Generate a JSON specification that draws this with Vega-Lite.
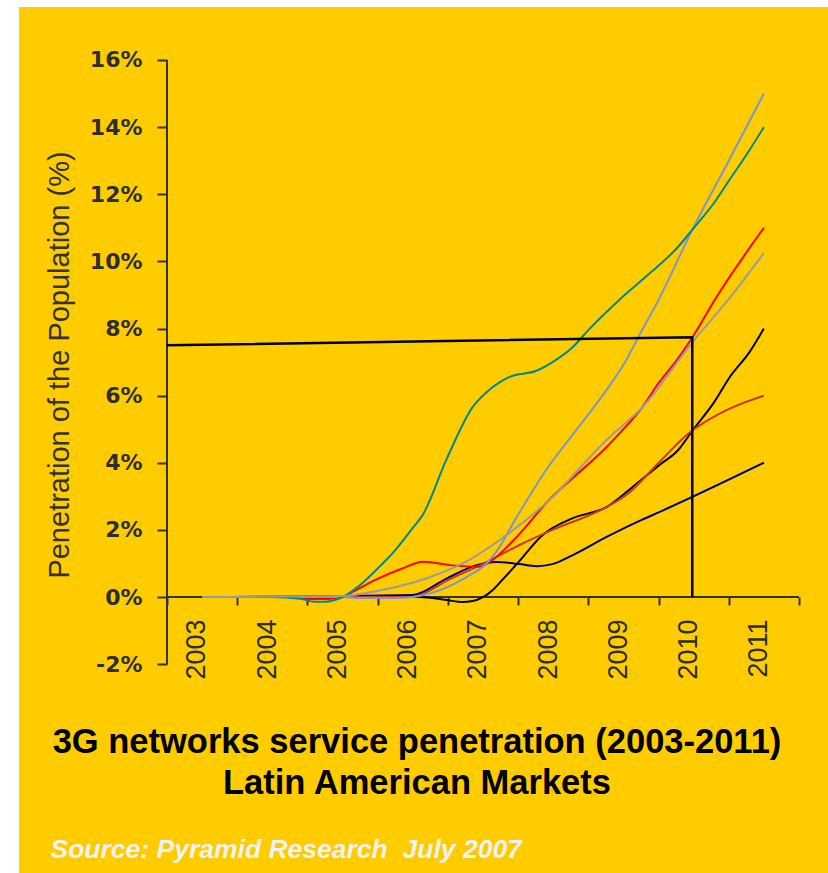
{
  "$schema": "https://vega.github.io/schema/vega-lite/v6.json",
  "width": 809,
  "height": 866,
  "autosize": {"type": "none"},
  "padding": {"left": 19, "top": 7, "right": 0, "bottom": 0},
  "background": "#FFFFFF",
  "config": {"view": {"fill": "#FFCC00", "stroke": null}, "font": "Liberation Sans"},
  "title": {
    "text": ["3G networks service penetration (2003-2011)", "Latin American Markets"],
    "orient": "bottom",
    "anchor": "middle",
    "offset": -120,
    "baseline": "alphabetic",
    "font": "Liberation Sans",
    "fontSize": 34.5,
    "fontWeight": "bold",
    "color": "#000000",
    "lineHeight": 41,
    "dx": -6.5
  },
  "datasets": {
    "series": [
      {"market": "Market 1", "year": 2003, "pct": 0},
      {"market": "Market 1", "year": 2006, "pct": 0.06},
      {"market": "Market 1", "year": 2006.48, "pct": 0.55},
      {"market": "Market 1", "year": 2006.91, "pct": 0.95},
      {"market": "Market 1", "year": 2007.19, "pct": 1.04},
      {"market": "Market 1", "year": 2007.52, "pct": 0.98},
      {"market": "Market 1", "year": 2007.76, "pct": 0.92},
      {"market": "Market 1", "year": 2007.99, "pct": 0.98},
      {"market": "Market 1", "year": 2008.28, "pct": 1.25},
      {"market": "Market 1", "year": 2008.76, "pct": 1.79},
      {"market": "Market 1", "year": 2009.26, "pct": 2.3},
      {"market": "Market 1", "year": 2009.51, "pct": 2.53},
      {"market": "Market 1", "year": 2011, "pct": 4.0},

      {"market": "Market 2", "year": 2003, "pct": 0},
      {"market": "Market 2", "year": 2006.1, "pct": 0},
      {"market": "Market 2", "year": 2006.48, "pct": -0.09},
      {"market": "Market 2", "year": 2006.71, "pct": -0.15},
      {"market": "Market 2", "year": 2006.85, "pct": -0.12},
      {"market": "Market 2", "year": 2007.0, "pct": 0.0},
      {"market": "Market 2", "year": 2007.14, "pct": 0.21},
      {"market": "Market 2", "year": 2007.24, "pct": 0.43},
      {"market": "Market 2", "year": 2007.48, "pct": 0.98},
      {"market": "Market 2", "year": 2007.85, "pct": 1.85},
      {"market": "Market 2", "year": 2008.28, "pct": 2.35},
      {"market": "Market 2", "year": 2008.76, "pct": 2.68},
      {"market": "Market 2", "year": 2009.13, "pct": 3.28},
      {"market": "Market 2", "year": 2009.51, "pct": 3.93},
      {"market": "Market 2", "year": 2009.78, "pct": 4.38},
      {"market": "Market 2", "year": 2009.99, "pct": 4.98},
      {"market": "Market 2", "year": 2010.28, "pct": 5.77},
      {"market": "Market 2", "year": 2010.52, "pct": 6.57},
      {"market": "Market 2", "year": 2010.8, "pct": 7.31},
      {"market": "Market 2", "year": 2011, "pct": 8.0},

      {"market": "Market 3", "year": 2003, "pct": 0},
      {"market": "Market 3", "year": 2004.3, "pct": 0},
      {"market": "Market 3", "year": 2004.55, "pct": -0.06},
      {"market": "Market 3", "year": 2004.8, "pct": -0.05},
      {"market": "Market 3", "year": 2005, "pct": 0},
      {"market": "Market 3", "year": 2006, "pct": 0},
      {"market": "Market 3", "year": 2006.1, "pct": 0.06},
      {"market": "Market 3", "year": 2006.5, "pct": 0.5},
      {"market": "Market 3", "year": 2007.05, "pct": 1.04},
      {"market": "Market 3", "year": 2007.52, "pct": 1.55},
      {"market": "Market 3", "year": 2007.99, "pct": 2.0},
      {"market": "Market 3", "year": 2008.76, "pct": 2.68},
      {"market": "Market 3", "year": 2009.04, "pct": 3.04},
      {"market": "Market 3", "year": 2009.54, "pct": 4.08},
      {"market": "Market 3", "year": 2009.9, "pct": 4.83},
      {"market": "Market 3", "year": 2010.49, "pct": 5.59},
      {"market": "Market 3", "year": 2011, "pct": 6.0},

      {"market": "Market 4", "year": 2003, "pct": 0},
      {"market": "Market 4", "year": 2004.2, "pct": 0},
      {"market": "Market 4", "year": 2004.5, "pct": -0.05},
      {"market": "Market 4", "year": 2004.8, "pct": -0.05},
      {"market": "Market 4", "year": 2005, "pct": 0},
      {"market": "Market 4", "year": 2005.15, "pct": 0.16},
      {"market": "Market 4", "year": 2005.49, "pct": 0.53},
      {"market": "Market 4", "year": 2005.85, "pct": 0.85},
      {"market": "Market 4", "year": 2006.15, "pct": 1.05},
      {"market": "Market 4", "year": 2006.53, "pct": 0.95},
      {"market": "Market 4", "year": 2006.96, "pct": 0.9},
      {"market": "Market 4", "year": 2007.1, "pct": 1.05},
      {"market": "Market 4", "year": 2007.48, "pct": 1.79},
      {"market": "Market 4", "year": 2007.9, "pct": 2.8},
      {"market": "Market 4", "year": 2008.76, "pct": 4.47},
      {"market": "Market 4", "year": 2008.99, "pct": 4.98},
      {"market": "Market 4", "year": 2009.26, "pct": 5.63},
      {"market": "Market 4", "year": 2009.51, "pct": 6.4},
      {"market": "Market 4", "year": 2009.76, "pct": 7.06},
      {"market": "Market 4", "year": 2009.99, "pct": 7.76},
      {"market": "Market 4", "year": 2010.3, "pct": 8.85},
      {"market": "Market 4", "year": 2011, "pct": 11.0},

      {"market": "Market 5", "year": 2003, "pct": 0},
      {"market": "Market 5", "year": 2005, "pct": 0},
      {"market": "Market 5", "year": 2005.25, "pct": -0.03},
      {"market": "Market 5", "year": 2005.75, "pct": -0.03},
      {"market": "Market 5", "year": 2006, "pct": 0},
      {"market": "Market 5", "year": 2006.5, "pct": 0.3},
      {"market": "Market 5", "year": 2006.77, "pct": 0.6},
      {"market": "Market 5", "year": 2007.05, "pct": 1.0},
      {"market": "Market 5", "year": 2007.19, "pct": 1.35},
      {"market": "Market 5", "year": 2007.48, "pct": 2.38},
      {"market": "Market 5", "year": 2007.9, "pct": 3.79},
      {"market": "Market 5", "year": 2008.33, "pct": 4.98},
      {"market": "Market 5", "year": 2008.76, "pct": 6.17},
      {"market": "Market 5", "year": 2009.04, "pct": 7.06},
      {"market": "Market 5", "year": 2009.19, "pct": 7.66},
      {"market": "Market 5", "year": 2009.5, "pct": 8.85},
      {"market": "Market 5", "year": 2009.98, "pct": 10.94},
      {"market": "Market 5", "year": 2010.5, "pct": 13.0},
      {"market": "Market 5", "year": 2011, "pct": 15.0},

      {"market": "Market 6", "year": 2003, "pct": 0},
      {"market": "Market 6", "year": 2004, "pct": 0},
      {"market": "Market 6", "year": 2004.4, "pct": -0.05},
      {"market": "Market 6", "year": 2004.6, "pct": -0.14},
      {"market": "Market 6", "year": 2004.75, "pct": -0.14},
      {"market": "Market 6", "year": 2005, "pct": 0},
      {"market": "Market 6", "year": 2005.25, "pct": 0.36},
      {"market": "Market 6", "year": 2005.5, "pct": 0.85},
      {"market": "Market 6", "year": 2005.71, "pct": 1.3},
      {"market": "Market 6", "year": 2006, "pct": 2.06},
      {"market": "Market 6", "year": 2006.14, "pct": 2.44},
      {"market": "Market 6", "year": 2006.48, "pct": 4.1},
      {"market": "Market 6", "year": 2006.85, "pct": 5.65},
      {"market": "Market 6", "year": 2007.05, "pct": 6.1},
      {"market": "Market 6", "year": 2007.24, "pct": 6.4},
      {"market": "Market 6", "year": 2007.38, "pct": 6.56},
      {"market": "Market 6", "year": 2007.76, "pct": 6.74},
      {"market": "Market 6", "year": 2007.99, "pct": 7.0},
      {"market": "Market 6", "year": 2008.28, "pct": 7.45},
      {"market": "Market 6", "year": 2008.5, "pct": 7.95},
      {"market": "Market 6", "year": 2008.94, "pct": 8.85},
      {"market": "Market 6", "year": 2009.35, "pct": 9.6},
      {"market": "Market 6", "year": 2009.76, "pct": 10.39},
      {"market": "Market 6", "year": 2009.98, "pct": 10.94},
      {"market": "Market 6", "year": 2010.32, "pct": 11.83},
      {"market": "Market 6", "year": 2010.5, "pct": 12.4},
      {"market": "Market 6", "year": 2010.75, "pct": 13.17},
      {"market": "Market 6", "year": 2011, "pct": 14.0},

      {"market": "Market 7", "year": 2003, "pct": 0},
      {"market": "Market 7", "year": 2005, "pct": 0.03},
      {"market": "Market 7", "year": 2005.49, "pct": 0.18},
      {"market": "Market 7", "year": 2006.2, "pct": 0.56},
      {"market": "Market 7", "year": 2006.71, "pct": 1.0},
      {"market": "Market 7", "year": 2007.24, "pct": 1.7},
      {"market": "Market 7", "year": 2007.9, "pct": 2.8},
      {"market": "Market 7", "year": 2008.76, "pct": 4.68},
      {"market": "Market 7", "year": 2009.26, "pct": 5.63},
      {"market": "Market 7", "year": 2009.99, "pct": 7.61},
      {"market": "Market 7", "year": 2010.49, "pct": 8.85},
      {"market": "Market 7", "year": 2011, "pct": 10.25}
    ],
    "frame": [
      {"step": 1, "year": 2002.5, "pct": 7.5},
      {"step": 2, "year": 2009.98, "pct": 7.74},
      {"step": 3, "year": 2009.98, "pct": 0}
    ]
  },
  "layer": [
    {
      "data": {"values": [{}]},
      "mark": {"type": "rule", "color": "#333333", "strokeWidth": 2},
      "encoding": {
        "x": {"datum": 2002.5, "type": "quantitative", "scale": {"domain": [2000.3924, 2011.913], "nice": false, "zero": false}},
        "x2": {"datum": 2011.5},
        "y": {"datum": 0, "type": "quantitative", "scale": {"domain": [-8.223, 17.579], "nice": false, "zero": false}}
      }
    },
    {
      "data": {"values": [{}]},
      "mark": {"type": "rule", "color": "#333333", "strokeWidth": 2},
      "encoding": {
        "x": {"datum": 2002.5, "type": "quantitative", "scale": {"domain": [2000.3924, 2011.913], "nice": false, "zero": false}},
        "y": {"datum": -2, "type": "quantitative", "scale": {"domain": [-8.223, 17.579], "nice": false, "zero": false}},
        "y2": {"datum": 16}
      }
    },
    {
      "data": {"name": "series"},
      "mark": {"type": "line", "strokeWidth": 2, "interpolate": "monotone"},
      "encoding": {
        "x": {
          "field": "year",
          "type": "quantitative",
          "scale": {"domain": [2000.3924, 2011.913], "nice": false, "zero": false},
          "axis": {
            "values": [2002.5, 2003.5, 2004.5, 2005.5, 2006.5, 2007.5, 2008.5, 2009.5, 2010.5, 2011.5],
            "labelExpr": "datum.value < 2011 ? format(datum.value + 0.5, 'd') : ''",
            "labelAngle": -90,
            "labelOffset": 30,
            "labelPadding": 14,
            "labelFont": "Liberation Sans",
            "labelFontSize": 27,
            "labelColor": "#2E2E2E",
            "labelOverlap": false,
            "labelFlush": false,
            "labelBound": false,
            "tickSize": 8,
            "tickWidth": 2,
            "tickColor": "#333333",
            "domain": false,
            "grid": false,
            "offset": -276,
            "title": "Source: Pyramid Research\u00a0 July 2007",
            "titleFont": "Liberation Sans",
            "titleFontSize": 26.5,
            "titleFontStyle": "italic",
            "titleFontWeight": "bold",
            "titleColor": "#F2F2F2",
            "titleX": 31,
            "titleY": 260,
            "titleAlign": "left",
            "titleAnchor": "start",
            "titleBaseline": "alphabetic"
          }
        },
        "y": {
          "field": "pct",
          "type": "quantitative",
          "scale": {"domain": [-8.223, 17.579], "nice": false, "zero": false},
          "axis": {
            "values": [-2, 0, 2, 4, 6, 8, 10, 12, 14, 16],
            "labelExpr": "datum.value + '%'",
            "labelFont": "DejaVu Sans",
            "labelFontSize": 22,
            "labelFontWeight": "bold",
            "labelColor": "#2E2E2E",
            "labelPadding": 15,
            "labelOverlap": false,
            "labelFlush": false,
            "labelBound": false,
            "tickSize": 10,
            "tickWidth": 2,
            "tickColor": "#333333",
            "domain": false,
            "grid": false,
            "offset": -148,
            "title": "Penetration of the Population (%)",
            "titleFont": "Liberation Sans",
            "titleFontSize": 29,
            "titleFontWeight": "normal",
            "titleColor": "#333333",
            "titleAngle": -90,
            "titleX": -99,
            "titleY": 357.5,
            "titleAlign": "center",
            "titleBaseline": "alphabetic"
          }
        },
        "color": {
          "field": "market",
          "type": "nominal",
          "scale": {
            "domain": ["Market 1", "Market 2", "Market 3", "Market 4", "Market 5", "Market 6", "Market 7"],
            "range": ["#000080", "#000000", "#C8372D", "#FF0000", "#7A97CC", "#00878C", "#9A9AA5"]
          },
          "legend": null
        }
      }
    },
    {
      "data": {"name": "frame"},
      "mark": {"type": "line", "color": "#000000", "strokeWidth": 2.5},
      "encoding": {
        "x": {"field": "year", "type": "quantitative", "scale": {"domain": [2000.3924, 2011.913], "nice": false, "zero": false}},
        "y": {"field": "pct", "type": "quantitative", "scale": {"domain": [-8.223, 17.579], "nice": false, "zero": false}},
        "order": {"field": "step", "type": "quantitative"}
      }
    }
  ]
}
